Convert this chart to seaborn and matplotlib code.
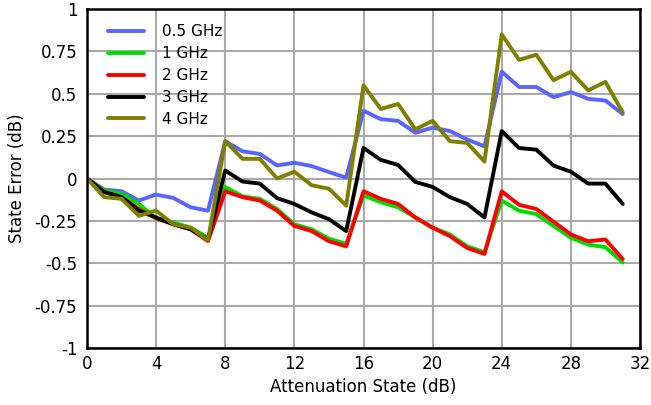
import matplotlib
matplotlib.use("Agg")
import matplotlib.pyplot as plt
import pandas as pd
import seaborn as sns

# attenuation states (dB)
states = list(range(32))

# state error (dB) per frequency
err_05 = [0, -0.066, -0.075, -0.13, -0.095, -0.115, -0.17, -0.19,
          0.22, 0.16, 0.145, 0.077, 0.093, 0.073, 0.038, 0.005,
          0.40, 0.35, 0.34, 0.27, 0.30, 0.28, 0.23, 0.19,
          0.63, 0.54, 0.54, 0.48, 0.51, 0.47, 0.46, 0.38]
err_1 = [0, -0.07, -0.09, -0.15, -0.235, -0.26, -0.29, -0.35,
         -0.05, -0.105, -0.12, -0.18, -0.27, -0.30, -0.355, -0.385,
         -0.10, -0.14, -0.17, -0.23, -0.29, -0.33, -0.40, -0.435,
         -0.13, -0.19, -0.21, -0.28, -0.35, -0.39, -0.405, -0.495]
err_2 = [0, -0.08, -0.11, -0.18, -0.235, -0.27, -0.30, -0.37,
         -0.075, -0.11, -0.13, -0.19, -0.28, -0.31, -0.37, -0.40,
         -0.075, -0.12, -0.15, -0.23, -0.29, -0.34, -0.41, -0.445,
         -0.076, -0.155, -0.18, -0.255, -0.33, -0.37, -0.36, -0.475]
err_3 = [0, -0.08, -0.11, -0.19, -0.23, -0.27, -0.30, -0.36,
         0.047, -0.018, -0.03, -0.116, -0.15, -0.20, -0.24, -0.31,
         0.18, 0.11, 0.08, -0.02, -0.05, -0.11, -0.15, -0.23,
         0.28, 0.18, 0.17, 0.076, 0.04, -0.03, -0.03, -0.15]
err_4 = [0, -0.11, -0.12, -0.22, -0.19, -0.27, -0.29, -0.365,
         0.22, 0.116, 0.116, 0.0, 0.04, -0.04, -0.06, -0.16,
         0.55, 0.41, 0.44, 0.29, 0.34, 0.22, 0.21, 0.10,
         0.85, 0.70, 0.73, 0.58, 0.63, 0.52, 0.57, 0.39]

freq_labels = ["0.5 GHz", "1 GHz", "2 GHz", "3 GHz", "4 GHz"]
colors = ["#5a64ff", "#00dd00", "#ff0000", "#000000", "#808000"]

x_ticks = [0, 4, 8, 12, 16, 20, 24, 28, 32]
y_ticks = [-1, -0.75, -0.5, -0.25, 0, 0.25, 0.5, 0.75, 1]
y_tick_labels = ["-1", "-0.75", "-0.5", "-0.25", "0", "0.25", "0.5", "0.75", "1"]

frames = []
for lab, vals in zip(freq_labels, [err_05, err_1, err_2, err_3, err_4]):
    frames.append(pd.DataFrame({"state": states, "error": vals, "freq": lab}))
df = pd.concat(frames, ignore_index=True)

sns.set_style("white")
plt.rcParams["font.family"] = ["DejaVu Sans"]
plt.rcParams["axes.unicode_minus"] = False
plt.rcParams["text.color"] = "black"
plt.rcParams["axes.labelcolor"] = "black"
plt.rcParams["xtick.color"] = "black"
plt.rcParams["ytick.color"] = "black"

fig = plt.figure(figsize=(6.51, 4.05), dpi=100)
ax = fig.add_axes([87 / 651, 1 - 348 / 405, 553 / 651, 339 / 405])

sns.lineplot(data=df, x="state", y="error", hue="freq", hue_order=freq_labels,
             palette=dict(zip(freq_labels, colors)), linewidth=2.8, ax=ax)

ax.set_xlim(0, 32)
ax.set_ylim(-1, 1)
ax.set_xticks(x_ticks)
ax.set_yticks(y_ticks)
ax.set_yticklabels(y_tick_labels)
ax.grid(True, color="#aaaaaa", linewidth=1.5)
ax.set_axisbelow(True)
for s in ax.spines.values():
    s.set_color("black")
    s.set_linewidth(1.8)
ax.tick_params(axis="both", length=0, labelsize=12)
ax.tick_params(axis="x", pad=5)
ax.tick_params(axis="y", pad=7)

ax.set_xlabel("Attenuation State (dB)", fontsize=12, labelpad=4)
ax.set_ylabel("State Error (dB)", fontsize=12, labelpad=6)

ax.legend(loc="upper left", bbox_to_anchor=(0.038, 0.955), frameon=False,
          borderpad=0, borderaxespad=0, fontsize=11, handlelength=2.35,
          handletextpad=1.2, labelspacing=0.45, title=None)

fig.savefig("out.png", dpi=100)
